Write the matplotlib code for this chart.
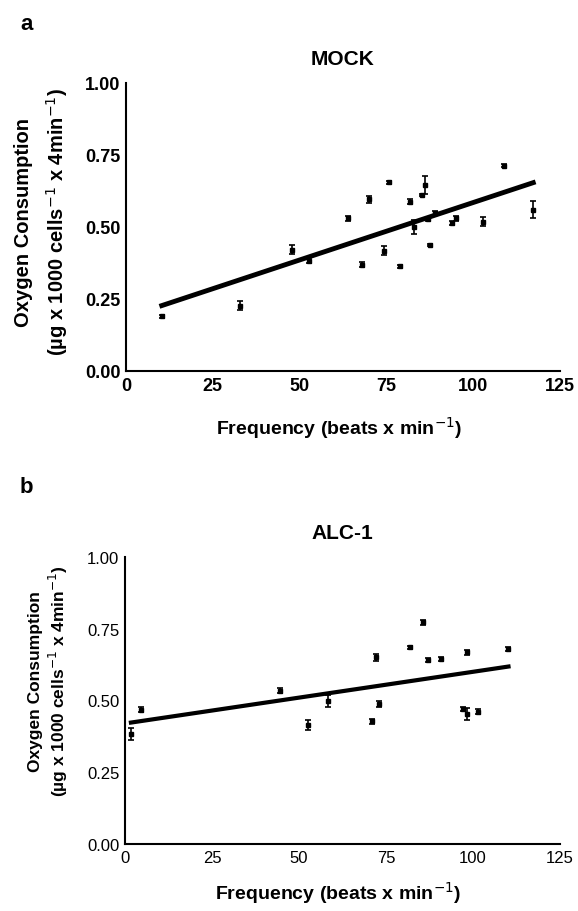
import matplotlib
matplotlib.use('Agg')
import matplotlib.pyplot as plt
import numpy as np

# MOCK panel (a)
mock_freq = [10.3, 32.8, 47.7, 52.8, 63.8, 68.1, 70.0, 74.4, 75.7, 78.9, 81.9,
             83.0, 85.2, 86.2, 87.1, 87.7, 89.0, 94.0, 95.0, 102.9, 108.9, 117.3]
mock_o2 = [0.19, 0.227, 0.421, 0.383, 0.530, 0.369, 0.597, 0.418, 0.656, 0.363, 0.588,
           0.499, 0.611, 0.646, 0.528, 0.4375, 0.549, 0.514, 0.530, 0.518, 0.713, 0.560]
mock_err = [0.005, 0.015, 0.015, 0.008, 0.008, 0.008, 0.012, 0.015, 0.005, 0.005, 0.008,
            0.025, 0.005, 0.03, 0.008, 0.005, 0.008, 0.008, 0.008, 0.015, 0.005, 0.03]
mock_fit = (0.00399, 0.186)

# ALC-1 panel (b)
alc_freq = [1.7, 4.5, 44.5, 52.7, 58.4, 70.9, 72.0, 73.0, 81.9, 85.5, 87.2,
            90.7, 97.1, 98.4, 98.4, 101.4, 110.2]
alc_o2 = [0.383, 0.468, 0.534, 0.415, 0.499, 0.427, 0.650, 0.488, 0.685, 0.772, 0.641,
          0.645, 0.470, 0.453, 0.668, 0.461, 0.679]
alc_err = [0.02, 0.008, 0.008, 0.018, 0.02, 0.008, 0.012, 0.01, 0.005, 0.008, 0.008,
           0.008, 0.008, 0.02, 0.008, 0.008, 0.008]
alc_fit = (0.0018, 0.420)

xticks = [0, 25, 50, 75, 100, 125]
yticks = [0.0, 0.25, 0.5, 0.75, 1.0]

sans = ['Liberation Sans', 'DejaVu Sans']

ylab = 'Oxygen Consumption\n(µg x 1000 cells$^{-1}$ x 4min$^{-1}$)'
xlab = 'Frequency (beats x min$^{-1}$)'

fig = plt.figure(figsize=(5.78, 9.12), dpi=100)


def panel(rect, freq, o2, err, fit, title, letter, letter_y, bold_ticks, lw,
          ylab_size, ylab_space, ylab_pos, xlab_y):
    ax = fig.add_axes(rect)
    ax.errorbar(freq, o2, yerr=err, fmt='s', color='black', ms=3.5,
                capsize=2.5, elinewidth=1.2, capthick=1.2)
    xs = np.array([min(freq), max(freq)])
    ax.plot(xs, fit[0] * xs + fit[1], color='black', lw=lw)
    ax.set_xlim(0, 125)
    ax.set_ylim(0, 1.0)
    ax.set_xticks(xticks)
    ax.set_yticks(yticks)
    ax.set_xticklabels([str(t) for t in xticks])
    ax.set_yticklabels(['%.2f' % t for t in yticks])
    for s in ['top', 'right']:
        ax.spines[s].set_visible(False)
    for s in ['left', 'bottom']:
        ax.spines[s].set_linewidth(1.5)
    ax.tick_params(length=0, pad=4)
    for lab in ax.get_xticklabels() + ax.get_yticklabels():
        lab.set_fontfamily(sans)
        if bold_ticks:
            lab.set_fontweight('bold')
            lab.set_fontsize(13)
        else:
            lab.set_fontsize(12)
    ax.set_title(title, fontsize=15, fontweight='bold', family=sans, pad=14)
    ax.set_xlabel(xlab, fontsize=14, fontweight='bold', family=sans)
    ax.xaxis.set_label_coords(0.49, xlab_y)
    ax.set_ylabel(ylab, fontsize=ylab_size, fontweight='bold', family=sans,
                  linespacing=ylab_space)
    ax.yaxis.set_label_coords(*ylab_pos)
    fig.text(20 / 578, letter_y, letter, fontsize=16, fontweight='bold', family=sans,
             va='center')
    return ax


panel([126 / 578, 1 - 372 / 912, 434 / 578, 288 / 912], mock_freq, mock_o2, mock_err,
      mock_fit, 'MOCK', 'a', 1 - 25 / 912, True, 3.5,
      14.5, 1.6, (-0.128, 0.52), -0.15)
panel([125 / 578, 1 - 845 / 912, 435 / 578, 287 / 912], alc_freq, alc_o2, alc_err,
      alc_fit, 'ALC-1', 'b', 1 - 488 / 912, False, 3.0,
      12.5, 1.25, (-0.126, 0.57), -0.122)

fig.savefig('out.png', dpi=100)
